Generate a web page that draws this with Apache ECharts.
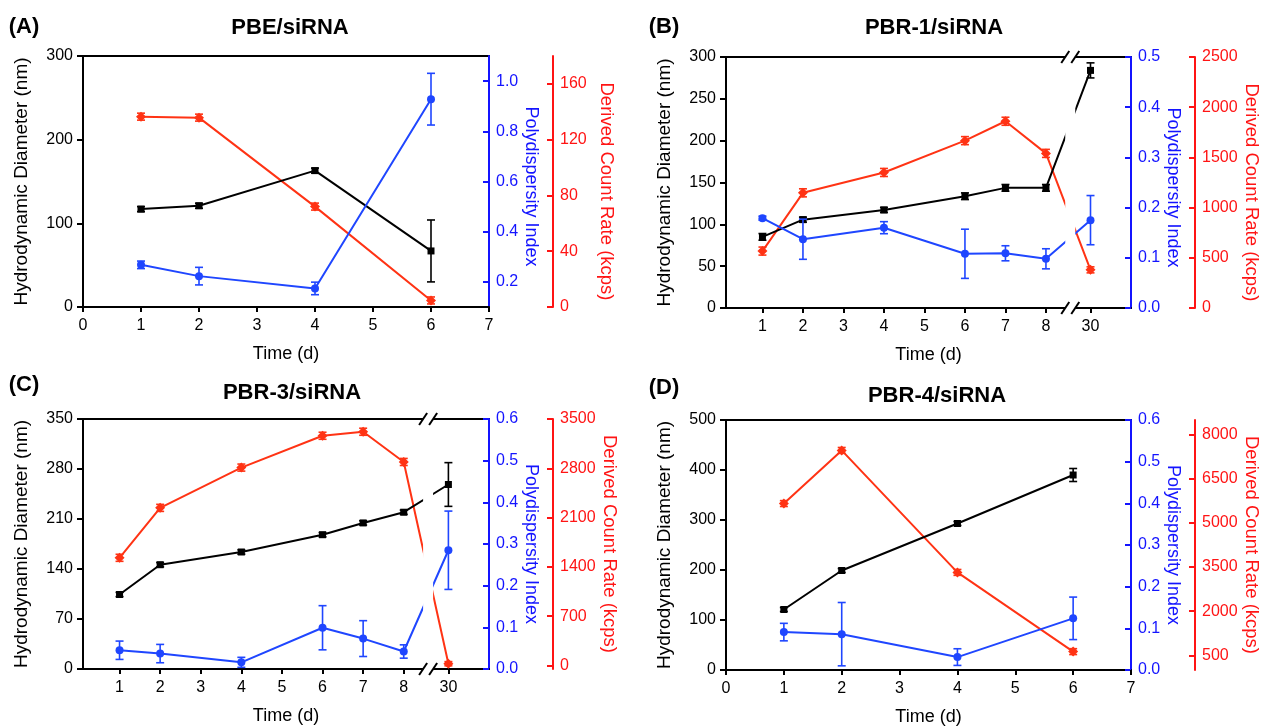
<!DOCTYPE html>
<html>
<head>
<meta charset="utf-8">
<script src="https://cdn.jsdelivr.net/npm/echarts@6.0.0/dist/echarts.min.js"></script>
<style>
  html, body { margin: 0; padding: 0; background: #ffffff; }
  #chart { width: 1272px; height: 727px; }
</style>
</head>
<body>
<div id="chart"></div>
<script>
// Day 30 sits beyond an axis break on panels B and C; it is plotted at BREAK_POS.
const BREAK_DAY = 30;
const BREAK_POS = 9.1;
const BREAK_CENTER = 8.6;

// ---- Panel A: PBE/siRNA ----
const daysA = [1, 2, 4, 6];
const diamA = [117, 121, 163, 67];
const diamErrA = [3, 3, 3, 37];
const pdiA = [0.268, 0.223, 0.174, 0.928];
const pdiErrA = [0.015, 0.035, 0.025, 0.103];
const rateA = [136.5, 135.8, 72, 4.7];
const rateErrA = [2.5, 2.5, 2.5, 2.5];

// ---- Panel B: PBR-1/siRNA ----
const daysB = [1, 2, 4, 6, 7, 8, 30];
const diamB = [85, 105.6, 117.2, 133.6, 143.6, 143.6, 284];
const diamErrB = [4, 3, 3, 4, 4, 4, 9];
const pdiB = [0.179, 0.137, 0.160, 0.108, 0.109, 0.098, 0.175];
const pdiErrB = [0.004, 0.04, 0.012, 0.049, 0.015, 0.02, 0.049];
const rateB = [567, 1147, 1350, 1667, 1860, 1540, 380];
const rateErrB = [40, 40, 40, 40, 40, 40, 30];

// ---- Panel C: PBR-3/siRNA ----
const daysC = [1, 2, 4, 6, 7, 8, 30];
const diamC = [104.3, 146, 163.8, 188, 204.5, 219.5, 258.3];
const diamErrC = [3, 3, 3, 3, 3, 3, 30.6];
const pdiC = [0.045, 0.037, 0.016, 0.099, 0.073, 0.042, 0.285];
const pdiErrC = [0.022, 0.022, 0.012, 0.053, 0.043, 0.016, 0.094];
const rateC = [1529, 2238, 2810, 3262, 3319, 2890, 25];
const rateErrC = [50, 50, 50, 50, 50, 50, 30];

// ---- Panel D: PBR-4/siRNA ----
const daysD = [1, 2, 4, 6];
const diamD = [121, 199, 293, 390];
const diamErrD = [4, 4, 4, 13];
const pdiD = [0.091, 0.086, 0.031, 0.124];
const pdiErrD = [0.021, 0.076, 0.02, 0.051];
const rateD = [5659, 7466, 3318, 625];
const rateErrD = [100, 100, 100, 100];

// ---- Tick labels ----
const xTicksLinear = [0, 1, 2, 3, 4, 5, 6, 7];
const xTicksBroken = [1, 2, 3, 4, 5, 6, 7, 8, 30];
const pdiTicksA = [0.2, 0.4, 0.6, 0.8, 1.0];
const rateTicksA = [0, 40, 80, 120, 160];
const rateTicksC = [0, 700, 1400, 2100, 2800, 3500];
const rateTicksD = [500, 2000, 3500, 5000, 6500, 8000];

const FONT = '"Liberation Sans", Arial, sans-serif';
const BLACK = '#000000';
const AXIS_BLUE = '#1414ff';
const LINE_BLUE = '#1f46ff';
const AXIS_RED = '#ff1414';
const LINE_RED = '#ff3314';

function xPos(day) {
  return day === BREAK_DAY ? BREAK_POS : day;
}

const panels = [
  {
    title: 'PBE/siRNA', letter: '(A)', titleAt: [290, 28], letterAt: [24, 27], nameShift: [10, 20],
    grid: { left: 83, top: 56, width: 406, height: 251 }, broken: false,
    days: daysA,
    diam: [diamA, diamErrA], diamAxis: { min: 0, max: 300, interval: 100 },
    pdi: [pdiA, pdiErrA], pdiAxis: { min: 0.1, max: 1.1, ticks: pdiTicksA },
    rate: [rateA, rateErrA], rateAxis: { min: 0, max: 180, ticks: rateTicksA }
  },
  {
    title: 'PBR-1/siRNA', letter: '(B)', titleAt: [934, 28], letterAt: [664, 27], nameShift: [10, 20],
    grid: { left: 726, top: 57, width: 405, height: 251 }, broken: true,
    days: daysB,
    diam: [diamB, diamErrB], diamAxis: { min: 0, max: 300, interval: 50 },
    pdi: [pdiB, pdiErrB], pdiAxis: { min: 0, max: 0.5, interval: 0.1 },
    rate: [rateB, rateErrB], rateAxis: { min: 0, max: 2500, interval: 500 }
  },
  {
    title: 'PBR-3/siRNA', letter: '(C)', titleAt: [292, 393], letterAt: [24, 385], nameShift: [0, 0],
    grid: { left: 83, top: 419, width: 406, height: 250 }, broken: true,
    days: daysC,
    diam: [diamC, diamErrC], diamAxis: { min: 0, max: 350, interval: 70 },
    pdi: [pdiC, pdiErrC], pdiAxis: { min: 0, max: 0.6, interval: 0.1 },
    rate: [rateC, rateErrC], rateAxis: { min: -50, max: 3500, ticks: rateTicksC }
  },
  {
    title: 'PBR-4/siRNA', letter: '(D)', titleAt: [937, 396], letterAt: [664, 388], nameShift: [0, 0],
    grid: { left: 726, top: 420, width: 405, height: 250 }, broken: false,
    days: daysD,
    diam: [diamD, diamErrD], diamAxis: { min: 0, max: 500, interval: 100 },
    pdi: [pdiD, pdiErrD], pdiAxis: { min: 0, max: 0.6, interval: 0.1 },
    rate: [rateD, rateErrD], rateAxis: { min: 0, max: 8500, ticks: rateTicksD }
  }
];

function xAxisFor(p, i) {
  const ax = {
    type: 'value', gridIndex: i,
    name: 'Time (d)', nameLocation: 'middle', nameGap: 38,
    nameTextStyle: { fontFamily: FONT, fontSize: 18, color: BLACK },
    axisLine: { show: true, onZero: false, lineStyle: { color: BLACK, width: 2 } },
    axisTick: { show: true, length: 5, lineStyle: { color: BLACK, width: 2 } },
    axisLabel: { fontFamily: FONT, fontSize: 16, color: BLACK, margin: 11 },
    splitLine: { show: false }
  };
  if (p.broken) {
    const vals = xTicksBroken.map(xPos);
    ax.min = 0.1; ax.max = 10.1;
    ax.axisTick.customValues = vals;
    ax.axisLabel.customValues = vals;
    ax.axisLabel.formatter = v => Math.abs(v - BREAK_POS) < 1e-6 ? String(BREAK_DAY) : String(Math.round(v));
  } else {
    ax.min = xTicksLinear[0];
    ax.max = xTicksLinear[xTicksLinear.length - 1];
    ax.interval = 1;
  }
  return ax;
}

function yAxisFor(i, spec, opts) {
  const ax = {
    type: 'value', gridIndex: i, position: opts.position, offset: opts.offset || 0,
    min: spec.min, max: spec.max,
    name: opts.name, nameLocation: 'middle', nameGap: opts.nameGap, nameRotate: opts.nameRotate,
    nameTextStyle: { fontFamily: FONT, fontSize: opts.nameSize, color: opts.color, padding: [0, 0, 0, opts.shift || 0] },
    axisLine: { show: true, onZero: false, lineStyle: { color: opts.color, width: 2 } },
    axisTick: { show: true, inside: opts.inside, length: 6, lineStyle: { color: opts.color, width: 2 } },
    axisLabel: { fontFamily: FONT, fontSize: 16, color: opts.color, margin: opts.margin, formatter: opts.fmt },
    splitLine: { show: false }
  };
  if (spec.ticks) {
    ax.axisTick.customValues = spec.ticks;
    ax.axisLabel.customValues = spec.ticks;
  } else {
    ax.interval = spec.interval;
  }
  return ax;
}

function lineSeries(xi, yi, days, vals, color, symbol, size) {
  return {
    type: 'line', xAxisIndex: xi, yAxisIndex: yi,
    data: days.map((d, k) => [xPos(d), vals[k]]),
    symbol: symbol, symbolSize: size, showSymbol: true,
    lineStyle: { color: color, width: 2 },
    itemStyle: { color: color },
    z: 4, silent: true, animation: false
  };
}

function errorSeries(xi, yi, days, vals, errs, color) {
  return {
    type: 'custom', xAxisIndex: xi, yAxisIndex: yi,
    data: days.map((d, k) => [xPos(d), vals[k] - errs[k], vals[k] + errs[k]]),
    encode: { x: 0, y: [1, 2] },
    renderItem: function (params, api) {
      const x = api.value(0);
      const lo = api.coord([x, api.value(1)]);
      const hi = api.coord([x, api.value(2)]);
      const w = 4;
      const st = { stroke: color, lineWidth: 1.6 };
      return {
        type: 'group',
        children: [
          { type: 'line', shape: { x1: lo[0], y1: lo[1], x2: hi[0], y2: hi[1] }, style: st },
          { type: 'line', shape: { x1: lo[0] - w, y1: lo[1], x2: lo[0] + w, y2: lo[1] }, style: st },
          { type: 'line', shape: { x1: hi[0] - w, y1: hi[1], x2: hi[0] + w, y2: hi[1] }, style: st }
        ]
      };
    },
    z: 5, silent: true, animation: false
  };
}

const grids = [], xAxes = [], yAxes = [], series = [], texts = [];

panels.forEach((p, i) => {
  grids.push(Object.assign({ show: true, borderColor: BLACK, borderWidth: 2, backgroundColor: 'transparent', containLabel: false, outerBoundsMode: 'none' }, p.grid));
  xAxes.push(xAxisFor(p, i));

  const intFmt = v => String(Math.round(v));
  yAxes.push(yAxisFor(i, p.diamAxis, {
    position: 'left', color: BLACK, name: 'Hydrodynamic Diameter (nm)', nameGap: 52, nameSize: 19,
    nameRotate: 90, inside: false, margin: 10, fmt: intFmt
  }));
  yAxes.push(yAxisFor(i, p.pdiAxis, {
    position: 'right', color: AXIS_BLUE, name: 'Polydispersity Index', nameGap: 31, nameSize: 18,
    nameRotate: -90, inside: true, margin: 7, fmt: v => v.toFixed(1), shift: p.nameShift[0]
  }));
  yAxes.push(yAxisFor(i, p.rateAxis, {
    position: 'right', offset: 64, color: AXIS_RED, name: 'Derived Count Rate (kcps)', nameGap: 44, nameSize: 18.5,
    nameRotate: -90, inside: true, margin: 7, fmt: intFmt, shift: p.nameShift[1]
  }));

  const yi = i * 3;
  series.push(lineSeries(i, yi + 2, p.days, p.rate[0], LINE_RED, 'diamond', 10));
  series.push(errorSeries(i, yi + 2, p.days, p.rate[0], p.rate[1], LINE_RED));
  series.push(lineSeries(i, yi, p.days, p.diam[0], BLACK, 'rect', 7));
  series.push(errorSeries(i, yi, p.days, p.diam[0], p.diam[1], BLACK));
  series.push(lineSeries(i, yi + 1, p.days, p.pdi[0], LINE_BLUE, 'circle', 8));
  series.push(errorSeries(i, yi + 1, p.days, p.pdi[0], p.pdi[1], LINE_BLUE));

  texts.push({
    type: 'text', id: 'title' + i, x: p.titleAt[0], y: p.titleAt[1], z: 10,
    style: { text: p.title, font: 'bold 22px ' + FONT, fill: BLACK, align: 'center', verticalAlign: 'middle' }
  });
  texts.push({
    type: 'text', id: 'letter' + i, x: p.letterAt[0], y: p.letterAt[1], z: 10,
    style: { text: p.letter, font: 'bold 22px ' + FONT, fill: BLACK, align: 'center', verticalAlign: 'middle' }
  });
});

const chart = echarts.init(document.getElementById('chart'), null, { renderer: 'canvas' });
chart.setOption({
  animation: false,
  backgroundColor: '#ffffff',
  grid: grids,
  xAxis: xAxes,
  yAxis: yAxes,
  series: series,
  graphic: texts
});

// Break marks on the broken time axes: a blank gap through the plot with "//" on the frame.
const marks = [];
panels.forEach((p, i) => {
  if (!p.broken) return;
  const cx = chart.convertToPixel({ xAxisIndex: i }, BREAK_CENTER);
  const top = p.grid.top;
  const bottom = p.grid.top + p.grid.height;
  marks.push({
    type: 'rect', id: 'gap' + i, z: 100,
    shape: { x: cx - 5, y: top - 3, width: 10, height: bottom - top + 6 },
    style: { fill: '#ffffff' }
  });
  [top, bottom].forEach((y, r) => {
    [-5, 5].forEach((dx, s) => {
      marks.push({
        type: 'line', id: 'slash' + i + '_' + r + '_' + s, z: 101,
        shape: { x1: cx + dx - 4, y1: y + 6, x2: cx + dx + 4, y2: y - 6 },
        style: { stroke: BLACK, lineWidth: 2 }
      });
    });
  });
});
chart.setOption({ graphic: texts.concat(marks) });
</script>
</body>
</html>
